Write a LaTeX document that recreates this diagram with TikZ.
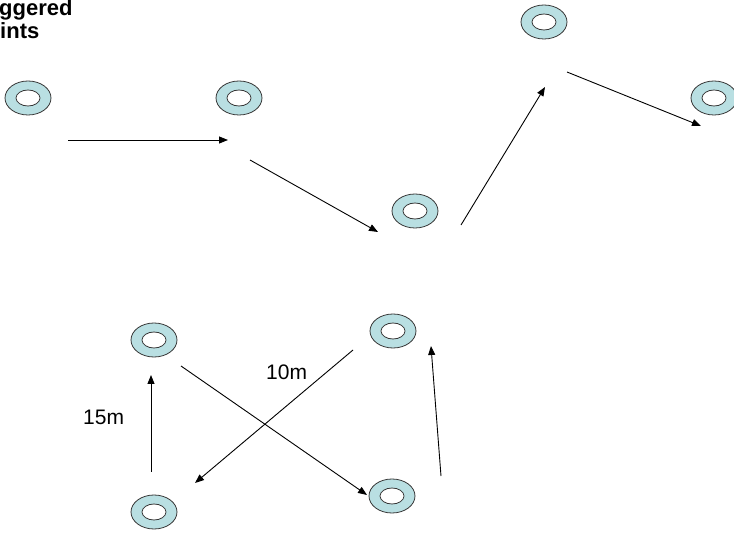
\documentclass[tikz,border=0pt]{standalone}
\usepackage{fontspec}
\setmainfont{Liberation Sans}
\usetikzlibrary{arrows.meta,shapes.geometric}
\definecolor{ringfill}{RGB}{185,223,226}
\definecolor{ringline}{RGB}{55,55,55}
\tikzset{
  ring/.style={ellipse, draw=ringline, line width=0.8pt, fill=ringfill,
    minimum width=46pt, minimum height=34pt, inner sep=0pt,
    path picture={\draw[ringline, line width=0.8pt, fill=white]
      (path picture bounding box.center) ellipse (12pt and 8pt);}},
  conn/.style={line width=0.9pt, -{Triangle[length=9pt,width=7pt]}},
  lbl/.style={font=\fontsize{21pt}{25pt}\selectfont, inner sep=0pt, anchor=base west},
  ttl/.style={font=\fontsize{22pt}{26pt}\selectfont\bfseries, inner sep=0pt, anchor=base west}
}
\begin{document}
\begin{tikzpicture}[x=1pt,y=-1pt]
\useasboundingbox (0,0) rectangle (734,534);
\clip (0,0) rectangle (734,534);
% title fragments
\node[ttl] (t1) at (-1,16) {ggered};
\node[ttl] (t2) at (0,39) {ints};
% rings, top route
\node[ring] (r1) at (28,98) {};
\node[ring] (r2) at (239,98) {};
\node[ring] (r3) at (415,211) {};
\node[ring] (r4) at (544,22) {};
\node[ring] (r5) at (714,98) {};
% rings, bottom route
\node[ring] (r6) at (154,340) {};
\node[ring] (r7) at (393,331) {};
\node[ring] (r8) at (392,496) {};
\node[ring] (r9) at (154,512) {};
% connector end points
\coordinate (a1s) at (68,140);  \coordinate (a1e) at (228,140);
\coordinate (a2s) at (250,160); \coordinate (a2e) at (378,232);
\coordinate (a3s) at (461,225); \coordinate (a3e) at (545,87);
\coordinate (a4s) at (567,72);  \coordinate (a4e) at (701,126);
\coordinate (b1s) at (151,472); \coordinate (b1e) at (151,375);
\coordinate (b2s) at (181,366); \coordinate (b2e) at (367,495);
\coordinate (b3s) at (353,350); \coordinate (b3e) at (195,483);
\coordinate (b4s) at (441,476); \coordinate (b4e) at (431,346);
\draw[conn] (a1s) -- (a1e);
\draw[conn] (a2s) -- (a2e);
\draw[conn] (a3s) -- (a3e);
\draw[conn] (a4s) -- (a4e);
\draw[conn] (b1s) -- (b1e);
\draw[conn] (b2s) -- (b2e);
\draw[conn] (b3s) -- (b3e);
\draw[conn] (b4s) -- (b4e);
% labels
\node[lbl] (l15) at (83,425) {15m};
\node[lbl] (l10) at (266,380) {10m};
\end{tikzpicture}
\end{document}
